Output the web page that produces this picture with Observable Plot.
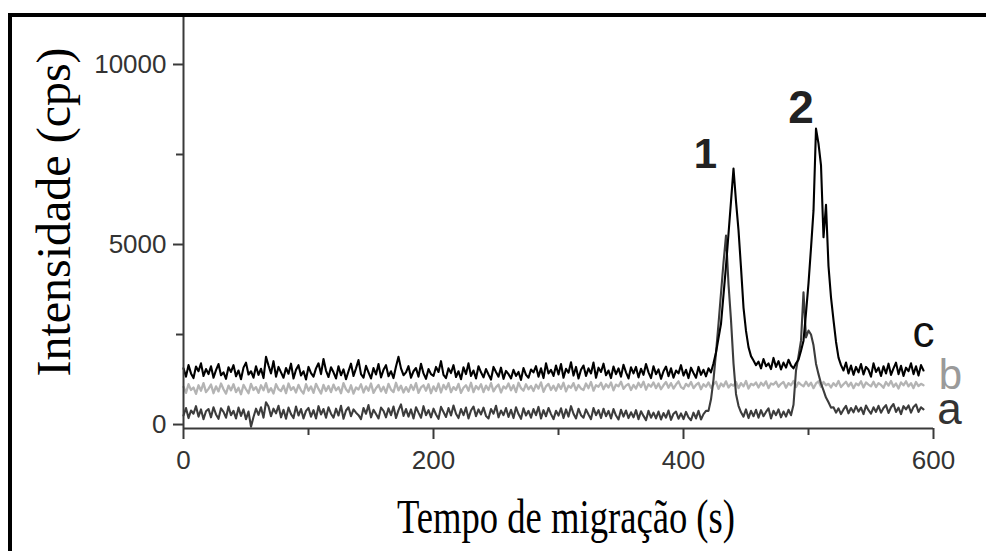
<!DOCTYPE html>
<html>
<head>
<meta charset="utf-8">
<script src="https://cdn.jsdelivr.net/npm/d3@7"></script>
<script src="https://cdn.jsdelivr.net/npm/@observablehq/plot@0.6"></script>
<style>
html, body { margin: 0; padding: 0; background: #fff; }
#chart { position: relative; width: 986px; height: 551px; overflow: hidden; background: #fff; }
</style>
</head>
<body>
<div id="chart"></div>
<script>
// ---- data ----
const timeStart = 0;      // s
const timeStep = 2;       // s between samples
const seriesNames = ["a", "b", "c"];

const seriesA = [
  250,460,180,390,300,510,220,420,150,370,
  430,200,480,280,160,450,350,190,500,260,
  380,170,470,240,420,150,360,-60,210,440,
  270,480,190,620,500,230,440,310,520,200,
  410,160,470,290,180,500,250,430,170,380,
  460,220,400,170,510,280,430,190,480,300,
  190,440,250,520,160,390,480,230,420,330,
  260,150,460,300,540,200,410,290,170,470,
  380,200,450,260,500,180,400,560,240,430,
  220,420,170,480,330,190,510,260,400,200,
  440,280,160,490,350,210,460,250,530,300,
  180,430,260,470,170,390,500,230,420,280,
  470,240,170,430,300,520,200,390,260,460,
  210,410,180,480,290,160,450,250,380,190,
  430,260,490,170,400,230,460,290,150,380,
  250,450,180,420,220,510,300,170,440,260,
  190,420,280,150,460,260,400,180,440,230,
  380,170,430,250,140,410,220,390,180,340,
  200,400,150,370,240,120,380,190,330,170,
  360,140,320,190,390,130,300,360,160,310,
  150,350,200,120,330,170,380,140,290,380,
  380,700,1250,2000,2800,3650,4500,5250,3900,2900,
  1700,850,520,340,220,420,180,380,230,410,
  190,400,230,350,450,170,380,260,420,200,
  360,220,410,260,550,1500,1900,2330,3670,2420,
  2610,2500,2200,1690,1400,1140,950,750,620,470,
  480,330,450,290,420,520,310,460,340,510,
  360,470,290,530,400,300,480,350,520,330,
  460,540,320,480,570,350,470,290,510,420,
  530,330,490,560,350,480,420
];

const seriesB = [
  1050,880,1120,960,1030,850,1090,940,1150,900,
  990,1110,870,1060,920,1140,980,860,1080,950,
  1120,900,1020,840,1100,980,870,1130,960,1040,
  880,1090,950,1150,900,1010,860,1120,980,930,
  1080,870,1140,960,1040,890,1100,950,860,1120,
  940,1060,880,1130,990,860,1100,930,1070,900,
  1110,950,1040,870,1150,980,900,1090,860,1030,
  970,1120,890,1060,940,1140,880,1010,1100,920,
  1050,880,1130,970,900,1160,950,1080,890,1040,
  910,1100,960,1150,880,1030,1090,940,1120,870,
  1060,930,1140,890,1100,980,1150,900,1040,960,
  1130,880,1020,1090,940,1160,900,1070,980,1120,
  900,1080,960,1150,920,1040,1110,890,1060,1000,
  1140,950,1090,900,1160,1010,940,1120,980,1070,
  930,1110,1000,1170,910,1060,1130,960,1080,940,
  1120,990,1160,920,1080,1020,1150,950,1100,1000,
  960,1140,1010,1180,940,1090,1050,1160,980,1120,
  1030,1170,950,1110,1060,1190,990,1080,1130,960,
  1100,1000,1160,1040,1190,970,1120,1050,1170,1010,
  1140,980,1090,1180,1020,1150,1000,1110,1200,1040,
  990,1130,1060,1180,1010,1100,1160,980,1120,1050,
  1170,1020,1110,1190,990,1140,1060,1200,1030,1120,
  1080,1180,1010,1150,1060,1210,1000,1130,1090,1170,
  1030,1160,1080,1200,1010,1140,1110,1190,1050,1130,
  1180,1020,1150,1090,1210,1040,1170,1110,1060,1190,
  1070,1160,1010,1140,1200,1050,1180,1090,1130,1030,
  1150,1070,1210,1040,1120,1190,1060,1160,1010,1140,
  1090,1200,1030,1170,1110,1060,1190,1040,1150,1100,
  1020,1180,1080,1210,1050,1140,1000,1170,1090,1200,
  1060,1150,1010,1180,1070,1130,1090
];

const seriesC = [
  1560,1330,1650,1420,1290,1610,1480,1700,1350,1540,
  1400,1620,1300,1510,1680,1370,1450,1270,1590,1460,
  1650,1340,1500,1260,1580,1720,1390,1480,1300,1620,
  1380,1550,1290,1880,1640,1420,1760,1330,1600,1450,
  1300,1570,1410,1690,1280,1520,1650,1360,1480,1250,
  1600,1430,1330,1560,1700,1400,1820,1500,1320,1590,
  1450,1280,1620,1370,1530,1260,1480,1690,1350,1560,
  1790,1400,1300,1630,1450,1280,1570,1390,1680,1310,
  1520,1650,1340,1480,1290,1610,1880,1560,1370,1450,
  1620,1300,1480,1570,1330,1690,1420,1270,1540,1400,
  1350,1600,1460,1760,1380,1290,1560,1430,1650,1320,
  1480,1260,1590,1400,1700,1350,1500,1280,1620,1450,
  1310,1540,1390,1250,1600,1460,1330,1580,1270,1490,
  1400,1280,1520,1350,1460,1240,1570,1380,1300,1530,
  1450,1620,1330,1560,1290,1700,1420,1520,1350,1640,
  1390,1680,1300,1550,1440,1730,1360,1600,1280,1520,
  1640,1350,1560,1420,1720,1300,1580,1460,1690,1370,
  1500,1290,1610,1400,1560,1330,1660,1450,1280,1590,
  1420,1600,1310,1550,1380,1680,1450,1290,1620,1400,
  1530,1270,1480,1610,1340,1560,1300,1500,1420,1650,
  1360,1520,1290,1580,1430,1300,1600,1380,1520,1340,
  1560,1450,1700,2000,2400,2800,3600,4400,5300,6200,
  7110,6200,5400,4360,3250,2600,2150,1900,1780,1650,
  1750,1560,1820,1620,1700,1540,1850,1600,1760,1530,
  1720,1580,1800,1640,1560,1700,1800,2050,2330,3100,
  3920,4900,5940,8220,7800,7200,5200,6100,4400,3530,
  2900,2300,1860,1650,1500,1720,1420,1640,1380,1600,
  1450,1680,1390,1600,1520,1330,1700,1460,1580,1350,
  1620,1420,1690,1380,1560,1720,1400,1630,1350,1580,
  1480,1700,1400,1620,1360,1650,1500
];

const peakLabels = ["1", "2"];
const peakTimes = [440, 506];

const xTicks = [0, 200, 400, 600];
const xMinorTicks = [100, 300, 500];
const yTicks = [0, 5000, 10000];
const yMinorTicks = [2500, 7500];
const xTitle = "Tempo de migração (s)";
const yTitle = "Intensidade (cps)";

// ---- build tables ----
const rowsFor = (name, values) => values.map((v, i) => ({series: name, t: timeStart + i * timeStep, v}));
const dataA = rowsFor(seriesNames[0], seriesA);
const dataB = rowsFor(seriesNames[1], seriesB);
const dataC = rowsFor(seriesNames[2], seriesC);
const lastOf = d => d[d.length - 1];
const peakRows = peakLabels.map((label, i) => {
  const row = dataC.find(r => r.t === peakTimes[i]);
  return {label, t: row.t, v: row.v};
});

const yMin = -110, yMax = 11305;
const axisColor = "#3a3a3a";

const chart = Plot.plot({
  width: 986,
  height: 551,
  marginLeft: 183,
  marginRight: 53,
  marginTop: 17,
  marginBottom: 123,
  x: {domain: [0, 600]},
  y: {domain: [yMin, yMax]},
  style: {
    background: "transparent",
    fontFamily: "'Liberation Sans', Arial, sans-serif",
    fontSize: "26px",
    color: "#333",
    overflow: "visible"
  },
  marks: [
    Plot.line(dataB, {x: "t", y: "v", stroke: "#b4b4b4", strokeWidth: 2.3}),
    Plot.line(dataA, {x: "t", y: "v", stroke: "#3c3c3c", strokeWidth: 2.1}),
    Plot.line(dataC, {x: "t", y: "v", stroke: "#000", strokeWidth: 2.1}),
    Plot.ruleY([yMin], {x1: 0, x2: 600, stroke: axisColor, strokeWidth: 2}),
    Plot.ruleX([0], {stroke: axisColor, strokeWidth: 2}),
    Plot.axisX({ticks: xTicks, tickSize: 11, tickPadding: 11, label: null, stroke: axisColor, strokeWidth: 2, tickFormat: d => String(d)}),
    Plot.axisX({ticks: xMinorTicks, tickSize: 7, label: null, stroke: axisColor, strokeWidth: 2, tickFormat: () => ""}),
    Plot.axisY({ticks: yTicks, tickSize: 10, tickPadding: 7, label: null, stroke: axisColor, strokeWidth: 2, tickFormat: d => String(d)}),
    Plot.axisY({ticks: yMinorTicks, tickSize: 7, label: null, stroke: axisColor, strokeWidth: 2, tickFormat: () => ""}),
    // series labels at the end of each trace
    Plot.text([lastOf(dataC)], {x: "t", y: "v", text: "series", fill: "#111", fontSize: 44, textAnchor: "middle", dx: 0, dy: -38}),
    Plot.text([lastOf(dataB)], {x: "t", y: "v", text: "series", fill: "#9a9a9a", fontSize: 42, textAnchor: "middle", dx: 27, dy: -10}),
    Plot.text([lastOf(dataA)], {x: "t", y: "v", text: "series", fill: "#333", fontSize: 44, textAnchor: "middle", dx: 26, dy: 0}),
    // peak labels
    Plot.text([peakRows[0]], {x: "t", y: "v", text: "label", fill: "#222", fontSize: 42, fontWeight: "bold", textAnchor: "middle", dx: -28, dy: -14}),
    Plot.text([peakRows[1]], {x: "t", y: "v", text: "label", fill: "#222", fontSize: 46, fontWeight: "bold", textAnchor: "middle", dx: -15, dy: -20})
  ]
});

const svg = d3.select(chart);
// axis titles
svg.append("text")
  .attr("transform", "translate(566,533)")
  .attr("text-anchor", "middle")
  .attr("font-family", "'Liberation Serif', 'Times New Roman', serif")
  .attr("font-size", 48)
  .attr("fill", "#000")
  .attr("textLength", 338)
  .attr("lengthAdjust", "spacingAndGlyphs")
  .text(xTitle);
svg.append("text")
  .attr("transform", "translate(70,212) rotate(-90)")
  .attr("text-anchor", "middle")
  .attr("font-family", "'Liberation Serif', 'Times New Roman', serif")
  .attr("font-size", 48)
  .attr("fill", "#000")
  .text(yTitle);
// outer frame
svg.append("rect")
  .attr("x", 10).attr("y", 15)
  .attr("width", 1000).attr("height", 600)
  .attr("fill", "none").attr("stroke", "#000").attr("stroke-width", 4);

document.getElementById("chart").appendChild(chart);
</script>
</body>
</html>
